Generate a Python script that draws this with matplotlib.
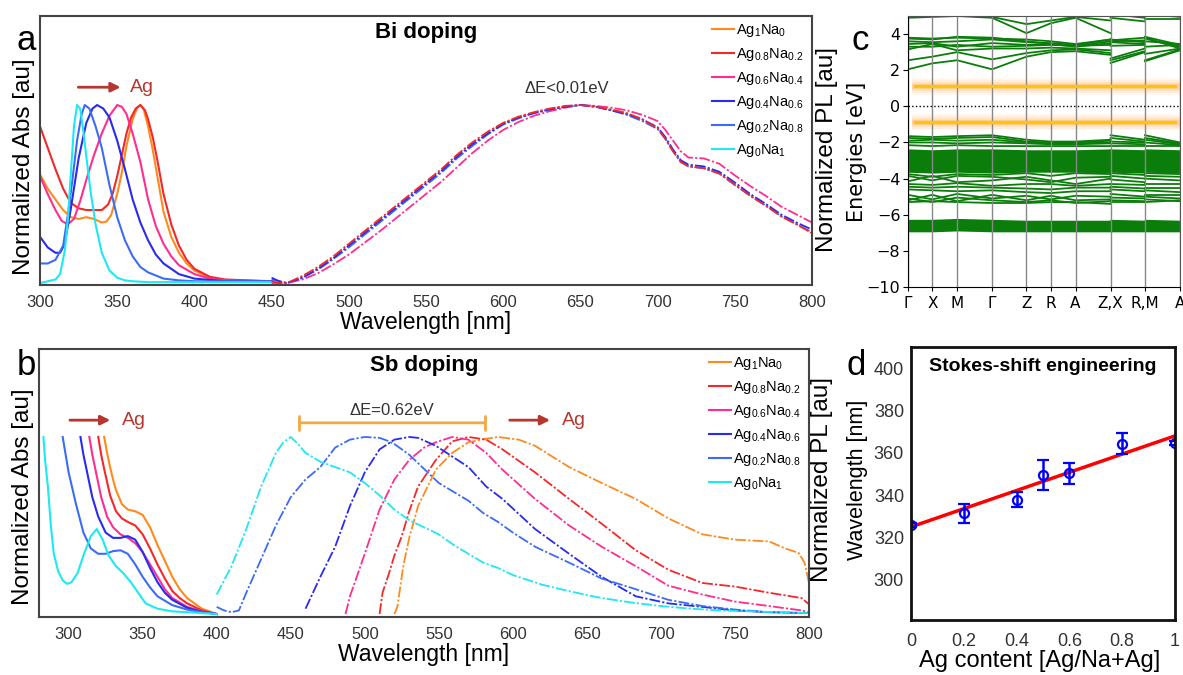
import numpy as np
import matplotlib
matplotlib.use("Agg")
import matplotlib.pyplot as plt

plt.rcParams['font.family'] = ['Liberation Sans', 'DejaVu Sans']
plt.rcParams['mathtext.fontset'] = 'custom'
plt.rcParams['mathtext.rm'] = 'Liberation Sans'
plt.rcParams['mathtext.it'] = 'Liberation Sans:italic'
plt.rcParams['mathtext.bf'] = 'Liberation Sans:bold'
plt.rcParams['mathtext.default'] = 'regular'

# ---- series names / colours
labels = [r'Ag$_1$Na$_0$', r'Ag$_{0.8}$Na$_{0.2}$', r'Ag$_{0.6}$Na$_{0.4}$',
          r'Ag$_{0.4}$Na$_{0.6}$', r'Ag$_{0.2}$Na$_{0.8}$', r'Ag$_0$Na$_1$']
colors = ['#ff8a1c', '#f42828', '#ff2d8f', '#2a2af0', '#3c6cf5', '#1ee8f0']

# ---- panel a: Bi doping, absorption
abs_a_wl = [
    [300,305,310,315,320,325,330,335,340,343,346,350,353,356,360,363,365,367,370,373,376,380,385,390,395,400,410,420,450],
    [300,305,310,315,320,325,330,335,340,344,347,350,353,356,359,362,365,368,370,373,376,380,385,390,395,400,410,420,450],
    [300,305,310,314,318,322,326,330,335,340,345,350,353,356,360,365,370,375,380,385,390,400,410,420,450],
    [300,305,310,313,316,320,325,330,334,337,341,345,350,355,360,365,370,375,380,390,400,420,450],
    [300,305,310,315,318,321,324,327,329,332,336,340,345,350,355,360,365,370,380,390,400,450],
    [300,305,310,313,316,318,320,322,324,326,328,330,333,336,340,345,350,355,360,370,400,450],
]
abs_a_val = [
    [0.61,0.53,0.47,0.41,0.37,0.36,0.37,0.36,0.34,0.345,0.38,0.50,0.62,0.77,0.92,0.985,1.0,0.98,0.88,0.75,0.60,0.40,0.26,0.17,0.11,0.07,0.03,0.015,0.01],
    [0.88,0.76,0.64,0.53,0.45,0.42,0.41,0.41,0.41,0.44,0.50,0.60,0.72,0.84,0.93,0.98,1.0,0.97,0.92,0.82,0.69,0.50,0.33,0.21,0.13,0.08,0.035,0.02,0.01],
    [0.60,0.50,0.41,0.35,0.33,0.36,0.46,0.58,0.72,0.84,0.94,1.0,0.99,0.95,0.84,0.68,0.47,0.32,0.22,0.15,0.10,0.05,0.025,0.015,0.01],
    [0.26,0.20,0.17,0.17,0.22,0.42,0.70,0.90,0.98,1.0,0.98,0.93,0.80,0.64,0.47,0.34,0.24,0.16,0.11,0.05,0.025,0.01,0.01],
    [0.11,0.11,0.13,0.21,0.38,0.58,0.80,0.95,1.0,0.98,0.88,0.76,0.55,0.37,0.24,0.15,0.09,0.06,0.025,0.015,0.01,0.01],
    [0.0,0.01,0.02,0.05,0.18,0.35,0.62,0.88,1.0,0.98,0.86,0.71,0.50,0.33,0.17,0.07,0.03,0.015,0.01,0.005,0.005,0.005],
]

# ---- panel a: PL (red, pink, blue, light blue)
pl_a_wl = [450,455,460,470,480,490,500,510,520,530,540,550,560,570,580,590,600,610,620,630,
           640,650,660,670,680,690,700,705,710,715,720,730,740,750,760,770,780,790,800]
pl_a_red = [0.01,0.0,0.0,0.04,0.09,0.15,0.22,0.29,0.36,0.43,0.50,0.57,0.64,0.72,0.79,0.85,0.90,0.935,0.96,0.98,
            0.995,1.0,0.99,0.975,0.955,0.92,0.87,0.81,0.74,0.68,0.655,0.645,0.615,0.555,0.49,0.435,0.375,0.33,0.28]
pl_a_pink = [0.0,0.0,0.0,0.02,0.055,0.105,0.16,0.225,0.29,0.36,0.43,0.50,0.57,0.65,0.73,0.80,0.86,0.905,0.94,0.965,
             0.985,1.0,0.995,0.985,0.97,0.945,0.91,0.86,0.80,0.74,0.705,0.70,0.67,0.605,0.545,0.49,0.43,0.385,0.34]
pl_a_blue = [0.03,0.01,0.0,0.03,0.08,0.14,0.21,0.28,0.35,0.42,0.49,0.56,0.63,0.71,0.78,0.84,0.895,0.93,0.955,0.975,
             0.99,1.0,0.99,0.97,0.95,0.92,0.875,0.82,0.75,0.69,0.665,0.655,0.625,0.565,0.50,0.445,0.385,0.34,0.30]
pl_a_lblue = [0.02,0.01,0.0,0.03,0.075,0.135,0.20,0.27,0.34,0.41,0.48,0.55,0.62,0.70,0.77,0.835,0.89,0.925,0.955,0.975,
              0.99,1.0,0.99,0.97,0.945,0.91,0.865,0.81,0.74,0.68,0.655,0.645,0.615,0.55,0.49,0.435,0.375,0.33,0.285]

# ---- panel b: Sb doping, absorption
abs_b_wl = [
    [324,326,328,330,332,336,340,345,350,355,360,365,370,375,380,385,390,395,400],
    [320,322,324,328,332,336,340,345,350,355,360,365,370,375,380,390,400],
    [314,316,318,322,326,330,335,340,345,350,355,360,365,370,380,390,400],
    [308,310,312,316,320,325,330,335,340,345,350,355,360,365,370,380,390,400],
    [296,298,300,305,310,315,320,325,330,335,340,345,350,355,360,370,380,390,400],
    [283,284,286,288,290,293,296,299,302,306,310,315,319,323,327,332,337,342,347,352,360,370,380,400],
]
abs_b_val = [
    [1.0,0.91,0.83,0.76,0.70,0.62,0.59,0.58,0.56,0.49,0.39,0.30,0.21,0.14,0.09,0.06,0.03,0.015,0.0],
    [1.0,0.90,0.82,0.67,0.58,0.54,0.52,0.50,0.45,0.37,0.28,0.20,0.13,0.09,0.06,0.02,0.0],
    [1.0,0.90,0.82,0.66,0.55,0.49,0.45,0.43,0.40,0.35,0.28,0.21,0.14,0.09,0.04,0.015,0.0],
    [1.0,0.90,0.82,0.66,0.55,0.46,0.43,0.43,0.44,0.42,0.35,0.26,0.18,0.12,0.08,0.035,0.012,0.0],
    [1.0,0.90,0.80,0.62,0.46,0.37,0.34,0.34,0.355,0.36,0.34,0.28,0.21,0.15,0.10,0.05,0.025,0.01,0.0],
    [1.0,0.88,0.72,0.50,0.34,0.24,0.19,0.17,0.18,0.23,0.33,0.44,0.48,0.42,0.33,0.27,0.23,0.18,0.12,0.06,0.03,0.015,0.01,0.0],
]

# ---- panel b: PL
pl_b_wl = [
    [520,522,526,530,536,548,559,570,582,590,604,615,638,660,683,705,728,750,773,784,793,797,800],
    [510,512,516,520,525,530,536,548,559,570,582,593,615,638,660,683,705,728,750,773,795,800],
    [487,490,500,510,520,530,540,548,559,570,582,593,615,638,660,683,705,728,750,773,795,800],
    [460,470,480,490,500,510,520,530,536,548,559,570,582,593,615,638,660,683,705,728,750,773,800],
    [400,405,410,415,420,430,440,450,460,470,480,490,500,510,515,520,530,540,550,560,570,580,590,600,
     615,638,660,683,705,728,750,773,800],
    [400,410,420,430,440,445,450,455,460,470,480,490,500,510,520,530,540,550,560,570,580,590,600,
     620,640,660,680,700,720,740,760,780,800],
]
pl_b_val = [
    [0.0,0.04,0.27,0.43,0.61,0.815,0.91,0.97,0.99,1.0,0.985,0.95,0.83,0.74,0.65,0.54,0.45,0.42,0.41,0.37,0.345,0.29,0.175],
    [0.0,0.12,0.22,0.33,0.44,0.58,0.72,0.87,0.975,1.0,0.985,0.93,0.80,0.65,0.51,0.36,0.25,0.175,0.155,0.12,0.09,0.055],
    [0.0,0.10,0.34,0.59,0.76,0.87,0.94,0.97,1.0,0.985,0.91,0.815,0.65,0.50,0.38,0.27,0.16,0.11,0.07,0.045,0.02,0.01],
    [0.03,0.21,0.38,0.61,0.80,0.93,0.985,1.0,0.995,0.95,0.89,0.83,0.72,0.65,0.48,0.34,0.21,0.10,0.06,0.04,0.02,0.01,0.005],
    [0.04,0.02,0.01,0.02,0.12,0.31,0.50,0.66,0.76,0.83,0.94,0.985,1.0,0.995,0.98,0.96,0.90,0.82,0.74,0.69,0.64,0.57,0.52,0.46,
     0.38,0.29,0.20,0.14,0.08,0.045,0.025,0.01,0.005],
    [0.11,0.27,0.48,0.72,0.91,0.97,1.0,0.96,0.91,0.86,0.83,0.80,0.74,0.67,0.59,0.53,0.49,0.45,0.39,0.34,0.29,0.26,0.22,
     0.165,0.125,0.09,0.065,0.045,0.03,0.02,0.015,0.01,0.005],
]

# ---- panel c: band structure (values at Γ X M Γ Z R A Z | X R | M A)
k_labels = ['Γ', 'X', 'M', 'Γ', 'Z', 'R', 'A', 'Z,X', 'R,M', 'A']
k_ticks = [0, 0.73, 1.47, 2.52, 3.55, 4.28, 5.02, 6.07, 7.10, 8.15]
k_nodes = [0, 0.73, 1.47, 2.52, 3.55, 4.28, 5.02, 6.07, 6.07, 7.10, 7.10, 8.15]
bands = [
    [2.05, 2.38, 2.55, 2.05, 2.75, 3.0, 3.05, 2.85, 2.40, 3.0, 2.50, 3.1],
    [2.55, 2.75, 3.0, 2.6, 2.95, 3.1, 3.15, 2.95, 2.55, 3.05, 2.55, 3.15],
    [3.15, 3.45, 3.1, 3.2, 3.2, 3.25, 3.2, 3.1, 2.65, 3.2, 2.9, 3.2],
    [3.3, 3.3, 3.4, 3.3, 3.35, 3.4, 3.35, 3.4, 3.35, 3.4, 3.3, 3.4],
    [3.45, 3.5, 3.3, 3.5, 3.4, 3.45, 3.35, 3.6, 3.55, 3.45, 3.6, 3.45],
    [3.6, 3.55, 3.6, 3.7, 3.55, 3.5, 3.4, 3.7, 3.7, 3.55, 3.75, 3.3],
    [3.75, 3.7, 3.85, 3.8, 3.6, 3.45, 3.3, 3.5, 3.6, 3.65, 3.85, 3.4],
    [3.8, 3.75, 3.8, 3.75, 3.7, 3.6, 3.45, 3.7, 3.65, 3.8, 3.8, 3.2],
    [4.9, 4.95, 5.0, 4.9, 4.05, 4.6, 4.9, 4.05, 4.9, 4.7, 4.85, 4.85],
    [5.1, 5.1, 5.1, 4.95, 4.55, 4.75, 4.95, 4.75, 5.1, 4.9, 5.1, 4.95],
    [-1.65, -1.7, -1.65, -1.6, -1.85, -1.95, -1.95, -1.85, -1.6, -1.85, -1.6, -2.0],
    [-1.75, -1.8, -1.75, -1.7, -1.95, -2.0, -2.0, -1.9, -1.75, -1.95, -1.75, -2.05],
    [-1.9, -1.85, -1.9, -1.85, -2.0, -2.05, -2.05, -2.0, -1.95, -2.0, -1.85, -2.1],
    [-2.0, -2.0, -2.05, -2.0, -2.05, -2.1, -2.1, -2.05, -2.05, -2.1, -2.0, -2.15],
    [-2.15, -2.2, -2.15, -2.2, -2.2, -2.2, -2.2, -2.2, -2.2, -2.2, -2.2, -2.2],
    [-3.75, -3.9, -3.75, -3.8, -3.7, -3.85, -3.7, -3.75, -3.7, -3.8, -3.7, -3.75],
    [-3.85, -4.1, -3.85, -3.9, -4.05, -4.2, -3.95, -3.9, -3.85, -4.0, -3.85, -3.9],
    [-4.15, -3.85, -4.2, -4.1, -3.9, -4.1, -4.3, -4.0, -4.05, -4.2, -4.0, -4.1],
    [-4.3, -4.35, -4.25, -4.4, -4.3, -4.3, -4.4, -4.3, -4.3, -4.35, -4.3, -4.3],
    [-4.45, -4.5, -4.45, -4.5, -4.55, -4.6, -4.5, -4.5, -4.45, -4.55, -4.5, -4.5],
    [-4.6, -4.65, -4.7, -4.65, -4.75, -4.8, -4.7, -4.7, -4.6, -4.7, -4.65, -4.75],
    [-4.9, -5.15, -4.85, -5.1, -4.95, -5.15, -4.95, -5.0, -4.85, -5.0, -4.9, -4.9],
    [-5.2, -4.9, -5.25, -4.9, -5.2, -4.95, -5.2, -5.15, -5.05, -5.1, -5.0, -5.1],
    [-5.3, -5.25, -5.3, -5.35, -5.35, -5.3, -5.3, -5.4, -5.2, -5.25, -5.15, -5.25],
    [-5.1, -5.3, -5.05, -5.2, -5.3, -5.2, -5.35, -5.25, -5.3, -5.3, -5.3, -5.2],
]
# dense band manifolds (upper edge, lower edge)
block1_top = [-2.4, -2.45, -2.4, -2.4, -2.45, -2.45, -2.45, -2.4, -2.4, -2.45, -2.4, -2.45]
block1_bot = [-3.6, -3.65, -3.6, -3.65, -3.6, -3.6, -3.6, -3.65, -3.6, -3.65, -3.6, -3.65]
block2_top = [-6.3, -6.3, -6.25, -6.3, -6.35, -6.35, -6.35, -6.35, -6.3, -6.35, -6.3, -6.35]
block2_bot = [-6.9, -6.9, -6.85, -6.9, -6.9, -6.9, -6.9, -6.9, -6.9, -6.9, -6.9, -6.9]
defect_levels = [1.1, -0.88]

# ---- panel d: Stokes-shift engineering
ag_content = [0, 0.2, 0.4, 0.5, 0.6, 0.8, 1.0]
peak_wl = [326, 331.5, 337.8, 349.6, 350.4, 364.3, 364.6]
peak_err = [1, 4.5, 3.6, 7.2, 5, 5, 1]
fit_x = [0, 1]
fit_y = [325, 368]

W, H = 1183, 675
fig = plt.figure(figsize=(W / 100, H / 100), dpi=100)

def px_axes(l, t, r, b):
    return fig.add_axes([l / W, 1 - b / H, (r - l) / W, (b - t) / H])

ax_a = px_axes(40, 16, 812, 285)
ax_b = px_axes(39, 349, 809, 617)
ax_c = px_axes(908, 16, 1180, 287)
ax_d = px_axes(911, 347, 1175, 620)

pl_dash = (0, (6, 1.2, 1.2, 1.2))
arrow_col = '#b5372f'
tick_col = '#333333'

# ---------- panel a
handles = []
for wl, v, c, lab in zip(abs_a_wl, abs_a_val, colors, labels):
    h, = ax_a.plot(wl, v, color=c, lw=1.5, label=lab)
    handles.append(h)
for v, c in [(pl_a_pink, colors[2]), (pl_a_lblue, colors[4]), (pl_a_blue, colors[3]), (pl_a_red, colors[1])]:
    ax_a.plot(pl_a_wl, v, color=c, lw=1.3, ls=pl_dash)
ax_a.set_xlim(300, 800)
ax_a.set_ylim(-0.011, 1.5)
ax_a.set_xticks(range(300, 801, 50))
ax_a.set_yticks([])
ax_a.tick_params(axis='x', length=0, pad=7, labelsize=12, labelcolor=tick_col)
ax_a.set_xlabel('Wavelength [nm]', fontsize=16.5, labelpad=1)
ax_a.text(0.5, 0.94, 'Bi doping', transform=ax_a.transAxes, ha='center', va='center',
          fontsize=16, fontweight='bold')
ax_a.text(641, 1.095, 'ΔE<0.01eV', ha='center', va='center', fontsize=12, color=tick_col)
ax_a.annotate('', xy=(354, 1.10), xytext=(323, 1.10),
              arrowprops=dict(arrowstyle='-|>', color=arrow_col, lw=2, mutation_scale=14))
ax_a.text(358, 1.10, 'Ag', ha='left', va='center', fontsize=14, color=arrow_col)
ax_a.legend(handles=handles, loc='upper right', bbox_to_anchor=(1.0, 1.01), frameon=False,
            fontsize=10.5, handlelength=1.5, handletextpad=0.15, labelspacing=0.48, borderaxespad=0.2)

# ---------- panel b
handles_b = []
for wl, v, c, lab in zip(abs_b_wl, abs_b_val, colors, labels):
    h, = ax_b.plot(wl, v, color=c, lw=1.5, label=lab)
    handles_b.append(h)
for wl, v, c in zip(pl_b_wl, pl_b_val, colors):
    ax_b.plot(wl, v, color=c, lw=1.3, ls=pl_dash)
ax_b.set_xlim(280, 800)
ax_b.set_ylim(-0.017, 1.497)
ax_b.set_xticks(range(300, 801, 50))
ax_b.set_yticks([])
ax_b.tick_params(axis='x', length=0, pad=7, labelsize=12, labelcolor=tick_col)
ax_b.set_xlabel('Wavelength [nm]', fontsize=16.5, labelpad=1)
ax_b.text(0.5, 0.94, 'Sb doping', transform=ax_b.transAxes, ha='center', va='center',
          fontsize=16, fontweight='bold')
ax_b.annotate('', xy=(454, 1.08), xytext=(583, 1.08),
              arrowprops=dict(arrowstyle='|-|', color='#f5a742', lw=2, mutation_scale=5))
ax_b.text(518, 1.15, 'ΔE=0.62eV', ha='center', va='center', fontsize=12, color=tick_col)
ax_b.annotate('', xy=(330, 1.095), xytext=(299, 1.095),
              arrowprops=dict(arrowstyle='-|>', color=arrow_col, lw=2, mutation_scale=14))
ax_b.text(336, 1.095, 'Ag', ha='left', va='center', fontsize=14, color=arrow_col)
ax_b.annotate('', xy=(627, 1.095), xytext=(596, 1.095),
              arrowprops=dict(arrowstyle='-|>', color=arrow_col, lw=2, mutation_scale=14))
ax_b.text(633, 1.095, 'Ag', ha='left', va='center', fontsize=14, color=arrow_col)
ax_b.legend(handles=handles_b, loc='upper right', bbox_to_anchor=(1.0, 1.01), frameon=False,
            fontsize=10.5, handlelength=1.5, handletextpad=0.15, labelspacing=0.48, borderaxespad=0.2)

for ax in (ax_a, ax_b):
    for sp in ax.spines.values():
        sp.set_color('#444444')
        sp.set_linewidth(1.5)

# ---------- panel c
segs = [(0, 8), (8, 10), (10, 12)]
green = '#0b7d0b'
for s0, s1 in segs:
    ax_c.fill_between(k_nodes[s0:s1], block1_bot[s0:s1], block1_top[s0:s1], color=green, lw=1.2, ec=green)
    ax_c.fill_between(k_nodes[s0:s1], block2_bot[s0:s1], block2_top[s0:s1], color=green, lw=1.2, ec=green)
    for band in bands:
        ax_c.plot(k_nodes[s0:s1], band[s0:s1], color=green, lw=1.3)
for kt in k_ticks:
    ax_c.axvline(kt, color='#888888', lw=1)
for e in defect_levels:
    for w, a in [(0.45, 0.08), (0.35, 0.10), (0.25, 0.14), (0.15, 0.2)]:
        ax_c.fill_between([0.12, 8.15], e - w, e + w, color='#ff9a40', alpha=a, lw=0)
    ax_c.plot([0.2, 8.0], [e, e], color='#ffc20e', lw=2.5)
ax_c.axhline(0, color='black', ls=':', lw=1)
ax_c.set_xlim(0, 8.15)
ax_c.set_ylim(-10, 5)
ax_c.set_yticks(range(-10, 5, 2))
ax_c.set_yticklabels([str(v).replace('-', '\u2212') for v in range(-10, 5, 2)],
                     fontfamily='DejaVu Sans', fontsize=11.5)
ax_c.set_xticks(k_ticks)
ax_c.set_xticklabels(k_labels, fontfamily='DejaVu Sans', fontsize=11)
ax_c.tick_params(axis='x', length=3)
ax_c.tick_params(axis='y', pad=2)
for sp in ax_c.spines.values():
    sp.set_color('#555555')
ax_c.spines['left'].set_color('black')
ax_c.spines['bottom'].set_color('black')
ax_c.set_ylabel('Energies [eV]', fontfamily='DejaVu Sans', fontsize=15, labelpad=0)

# ---------- panel d
ax_d.plot(fit_x, fit_y, color='red', lw=2.5, zorder=1)
ax_d.errorbar(ag_content, peak_wl, yerr=peak_err, fmt='o', mfc='none', mec='blue', color='blue',
              ms=6.5, mew=1.6, capsize=4, elinewidth=1.8, capthick=1.8, zorder=2)
ax_d.set_xlim(0, 1)
ax_d.set_ylim(281, 410)
ax_d.set_xticks([0, 0.2, 0.4, 0.6, 0.8, 1.0])
ax_d.set_xticklabels(['0', '0.2', '0.4', '0.6', '0.8', '1'])
ax_d.set_yticks(range(300, 401, 20))
ax_d.tick_params(length=0, labelsize=13, labelcolor=tick_col)
ax_d.tick_params(axis='x', pad=9)
ax_d.tick_params(axis='y', pad=5)
for sp in ax_d.spines.values():
    sp.set_color('#111111')
    sp.set_linewidth(2)
ax_d.text(0.5, 0.93, 'Stokes-shift engineering', transform=ax_d.transAxes, ha='center',
          va='center', fontsize=14, fontweight='bold')

# ---------- figure-level labels
fig.text(1040 / W, 1 - 661 / H, 'Ag content [Ag/Na+Ag]', ha='center', va='center', fontsize=17)
fig.text(24 / W, 1 - 167 / H, 'Normalized Abs [au]', rotation=90, ha='center', va='center', fontsize=17.5)
fig.text(23 / W, 1 - 497 / H, 'Normalized Abs [au]', rotation=90, ha='center', va='center', fontsize=17.5)
fig.text(827 / W, 1 - 150 / H, 'Normalized PL [au]', rotation=90, ha='center', va='center', fontsize=17.5)
fig.text(822 / W, 1 - 480 / H, 'Normalized PL [au]', rotation=90, ha='center', va='center', fontsize=17.5)
fig.text(857 / W, 1 - 480 / H, 'Wavelength [nm]', rotation=90, ha='center', va='center', fontsize=15.5)
for letter, x, y in [('a', 26, 50), ('b', 26, 375), ('c', 860, 50), ('d', 856, 375)]:
    fig.text(x / W, 1 - y / H, letter, ha='center', va='baseline', fontsize=25)

fig.savefig('out.png', dpi=100)
